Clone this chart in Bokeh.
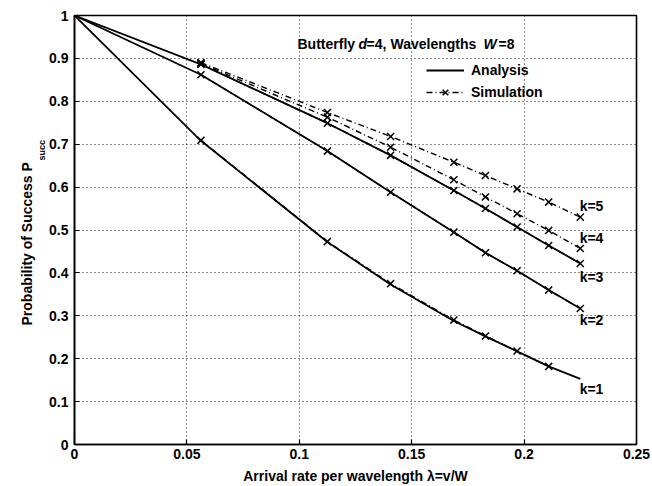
from bokeh.plotting import figure
from bokeh.models import (Label, Legend, LegendItem, FixedTicker, Range1d, Title)
from bokeh.embed import file_html
from bokeh.resources import INLINE

# ---------------- data ----------------
lam_analysis = [0.0, 0.05625, 0.1125, 0.140625, 0.16875, 0.1828125, 0.196875, 0.2109375, 0.225]
analysis_k1 = [1.0, 0.708, 0.472, 0.373, 0.288, 0.252, 0.217, 0.182, 0.153]
analysis_k2 = [1.0, 0.862, 0.684, 0.588, 0.495, 0.447, 0.405, 0.360, 0.317]
analysis_k3 = [1.0, 0.886, 0.749, 0.674, 0.592, 0.550, 0.507, 0.464, 0.422]

lam_sim = [0.05625, 0.1125, 0.140625, 0.16875, 0.1828125, 0.196875, 0.2109375, 0.225]
sim_k1 = [0.709, 0.473, 0.375, 0.290, 0.253, 0.218, 0.182]
sim_k2 = [0.862, 0.684, 0.588, 0.495, 0.447, 0.405, 0.360, 0.317]
sim_k3 = [0.886, 0.749, 0.674, 0.592, 0.550, 0.507, 0.464, 0.422]
sim_k4 = [0.888, 0.763, 0.693, 0.617, 0.577, 0.538, 0.499, 0.457]
sim_k5 = [0.890, 0.774, 0.718, 0.658, 0.627, 0.596, 0.565, 0.530]

curve_labels = ["k=1", "k=2", "k=3", "k=4", "k=5"]
curve_label_y = [0.13, 0.29, 0.391, 0.481, 0.555]
curve_label_x = 0.2247

x_ticks = [0, 0.05, 0.1, 0.15, 0.2, 0.25]
x_tick_labels = ["0", "0.05", "0.1", "0.15", "0.2", "0.25"]
y_ticks = [0, 0.1, 0.2, 0.3, 0.4, 0.5, 0.6, 0.7, 0.8, 0.9, 1]
y_tick_labels = ["0", "0.1", "0.2", "0.3", "0.4", "0.5", "0.6", "0.7", "0.8", "0.9", "1"]

FONT = "Liberation Sans"
FS = "14px"

p = figure(width=652, height=486, x_range=Range1d(0, 0.25), y_range=Range1d(0, 1),
           output_backend="svg", toolbar_location=None,
           min_border_left=74, min_border_right=16, min_border_top=15, min_border_bottom=42)
p.background_fill_color = "white"
p.border_fill_color = "white"
p.outline_line_color = "black"
p.outline_line_width = 1.6

# axes
for ax in (p.xaxis[0], p.yaxis[0]):
    ax.axis_line_width = 1.6
    ax.major_tick_in = 5
    ax.major_tick_out = 0
    ax.minor_tick_in = 0
    ax.minor_tick_out = 0
    ax.major_tick_line_width = 1.2
    ax.major_label_text_font = FONT
    ax.major_label_text_font_style = "bold"
    ax.major_label_text_font_size = FS
    ax.major_label_text_color = "black"
    ax.major_tick_line_color = "black"
    ax.axis_line_color = "black"

p.xaxis.ticker = FixedTicker(ticks=x_ticks)
p.yaxis.ticker = FixedTicker(ticks=y_ticks)
p.xaxis.major_label_overrides = {t: s for t, s in zip(x_ticks, x_tick_labels)}
p.yaxis.major_label_overrides = {t: s for t, s in zip(y_ticks, y_tick_labels)}
p.xaxis.major_label_standoff = 4
p.yaxis.major_label_standoff = 6

p.xaxis.axis_label = "Arrival rate per wavelength λ=v/W"
p.xaxis.axis_label_text_font = FONT
p.xaxis.axis_label_text_font_style = "bold"
p.xaxis.axis_label_text_font_size = FS
p.xaxis.axis_label_text_color = "black"
p.xaxis.axis_label_standoff = 6

# grid
p.xgrid.ticker = FixedTicker(ticks=x_ticks)
p.ygrid.ticker = FixedTicker(ticks=y_ticks)
p.grid.grid_line_color = "black"
p.grid.grid_line_dash = "1 3"
p.grid.grid_line_width = 1
p.grid.grid_line_alpha = 0.9

# analysis curves
an_renderers = []
for ys in (analysis_k1, analysis_k2, analysis_k3):
    r = p.line(lam_analysis, ys, line_color="black", line_width=1.8)
    an_renderers.append(r)

# simulation curves
sim_line_renderers = []
sim_mark_renderers = []
for ys in (sim_k1, sim_k2, sim_k3, sim_k4, sim_k5):
    xs = lam_sim[:len(ys)]
    rl = p.line(xs, ys, line_color="black", line_width=1.4, line_dash="6 3 1 3")
    rm = p.scatter(xs, ys, marker="x", size=10, line_color="black", line_width=1.5)
    sim_line_renderers.append(rl)
    sim_mark_renderers.append(rm)

# curve labels
for txt, yv in zip(curve_labels, curve_label_y):
    p.add_layout(Label(x=curve_label_x, y=yv, text=txt, text_font=FONT,
                       text_font_style="bold", text_font_size=FS,
                       text_baseline="middle", text_align="left", text_color="black"))

# title-like annotation with italic variables
tx, ty = 0.0992, 0.934
pieces = [("Butterfly", 0, "bold"), ("d", 61, "bold italic"), ("=4,", 69, "bold"),
          ("Wavelengths", 93, "bold"), ("W", 186, "bold italic"), ("=8", 201, "bold")]
for txt, off, style in pieces:
    p.add_layout(Label(x=tx, y=ty, x_offset=off, text=txt, text_font=FONT,
                       text_font_style=style, text_font_size=FS,
                       text_baseline="middle", text_align="left", text_color="black"))

# y-axis label (rotated titles on the left): subscript nearest the axis
sub = Title(text="succ", align="left", offset=284, text_font=FONT,
            text_font_style="bold", text_font_size="9px", text_color="black",
            standoff=0)
p.add_layout(sub, "left")
main = Title(text="Probability of Success P", align="left", offset=119, text_font=FONT,
             text_font_style="bold", text_font_size=FS, text_color="black",
             standoff=0)
p.add_layout(main, "left")

# legend
legend = Legend(items=[
    LegendItem(label="Analysis", renderers=[an_renderers[0]]),
    LegendItem(label="Simulation", renderers=[sim_line_renderers[0], sim_mark_renderers[0]]),
], location=(352, 342))
legend.glyph_width = 38
legend.glyph_height = 20
legend.label_height = 20
legend.label_standoff = 7
legend.spacing = 2
legend.padding = 0
legend.margin = 0
legend.border_line_alpha = 0
legend.background_fill_alpha = 0
legend.label_text_font = FONT
legend.label_text_font_style = "bold"
legend.label_text_font_size = FS
legend.label_text_color = "black"
p.add_layout(legend, "center")

open("out.html", "w").write(file_html(p, INLINE))
